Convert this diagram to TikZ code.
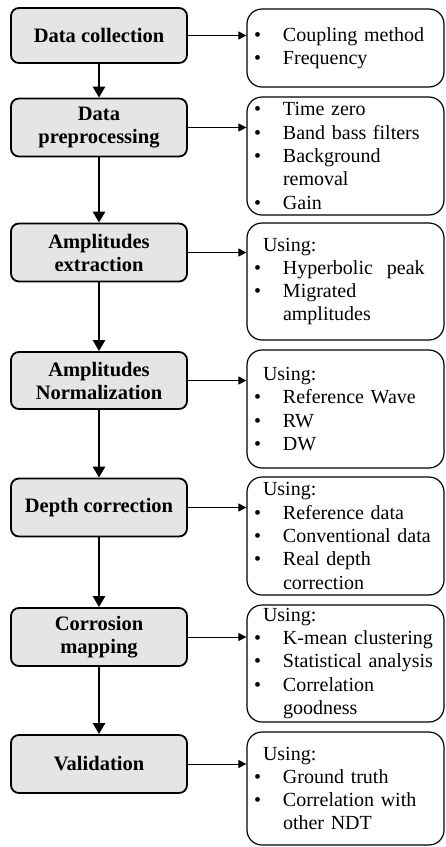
\documentclass[tikz,border=0pt]{standalone}
\usepackage{fontspec}
\setmainfont{Liberation Serif}
\usetikzlibrary{arrows.meta}
% bullet line, continuation line and lead-in line of a detail box
\newcommand\itm[1]{\makebox[36pt][l]{\hspace*{7pt}\textbullet}#1}
\newcommand\cnt[1]{\hspace*{36pt}#1}
\newcommand\usg{\hspace*{16pt}Using:}
\begin{document}
\begin{tikzpicture}[x=1pt,y=-1pt,
  stage/.style={draw, line width=1.8pt, rounded corners=8pt, fill=gray!20,
    minimum width=176pt, minimum height=58pt, align=center, inner sep=0pt,
    font=\fontsize{20.5}{23}\selectfont\bfseries},
  detail/.style={draw, line width=1.2pt, rounded corners=15pt,
    text width=197pt, align=left, inner sep=0pt,
    font=\fontsize{20}{23.3}\selectfont},
  flow/.style={line width=2.6pt, -{Triangle[width=12pt,length=11pt]}},
  link/.style={line width=0.9pt, -{Triangle[width=8pt,length=8pt]}}]
\useasboundingbox (0,0) rectangle (445,847);

% process stages
\node[stage, minimum height=55pt] (s1) at (99,35.5) {Data collection};
\node[stage] (s2) at (99,127.5) {Data\\preprocessing};
\node[stage] (s3) at (99,252.5) {Amplitudes\\extraction};
\node[stage, minimum height=57pt] (s4) at (99,380.5) {Amplitudes\\Normalization};
\node[stage] (s5) at (99,507.5) {Depth correction};
\node[stage] (s6) at (99,637) {Corrosion\\mapping};
\node[stage] (s7) at (99,764) {Validation};

% details of each stage
\node[detail, minimum height=78pt] (d1) at (345.5,48)
  {\itm{Coupling method}\\\itm{Frequency}};
\node[detail, minimum height=118pt] (d2) at (345.5,156)
  {\itm{Time zero}\\\itm{Band bass filters}\\\itm{Background}\\\cnt{removal}\\\itm{Gain}};
\node[detail, minimum height=117pt] (d3) at (345.5,281.5)
  {\usg\\\itm{Hyperbolic\hspace{14pt}peak}\\\itm{Migrated}\\\cnt{amplitudes}};
\node[detail, minimum height=118pt] (d4) at (345.5,409)
  {\usg\\\itm{Reference Wave}\\\itm{RW}\\\itm{DW}};
\node[detail, minimum height=118pt] (d5) at (345.5,536)
  {\usg\\\itm{Reference data}\\\itm{Conventional data}\\\itm{Real depth}\\\cnt{correction}};
\node[detail, minimum height=117pt] (d6) at (345.5,663.5)
  {\usg\\\itm{K-mean clustering}\\\itm{Statistical analysis}\\\itm{Correlation}\\\cnt{goodness}};
\node[detail, minimum height=113pt] (d7) at (345.5,788.5)
  {\usg\\\itm{Ground truth}\\\itm{Correlation with}\\\cnt{other NDT}};

% main flow
\foreach \a/\b in {s1/s2,s2/s3,s3/s4,s4/s5,s5/s6,s6/s7}
  \draw[flow] (\a.south) -- (\b.north);

% links to details
\foreach \i in {1,...,7}
  \draw[link] (s\i.east) -- (s\i.east -| d\i.west);
\end{tikzpicture}
\end{document}
